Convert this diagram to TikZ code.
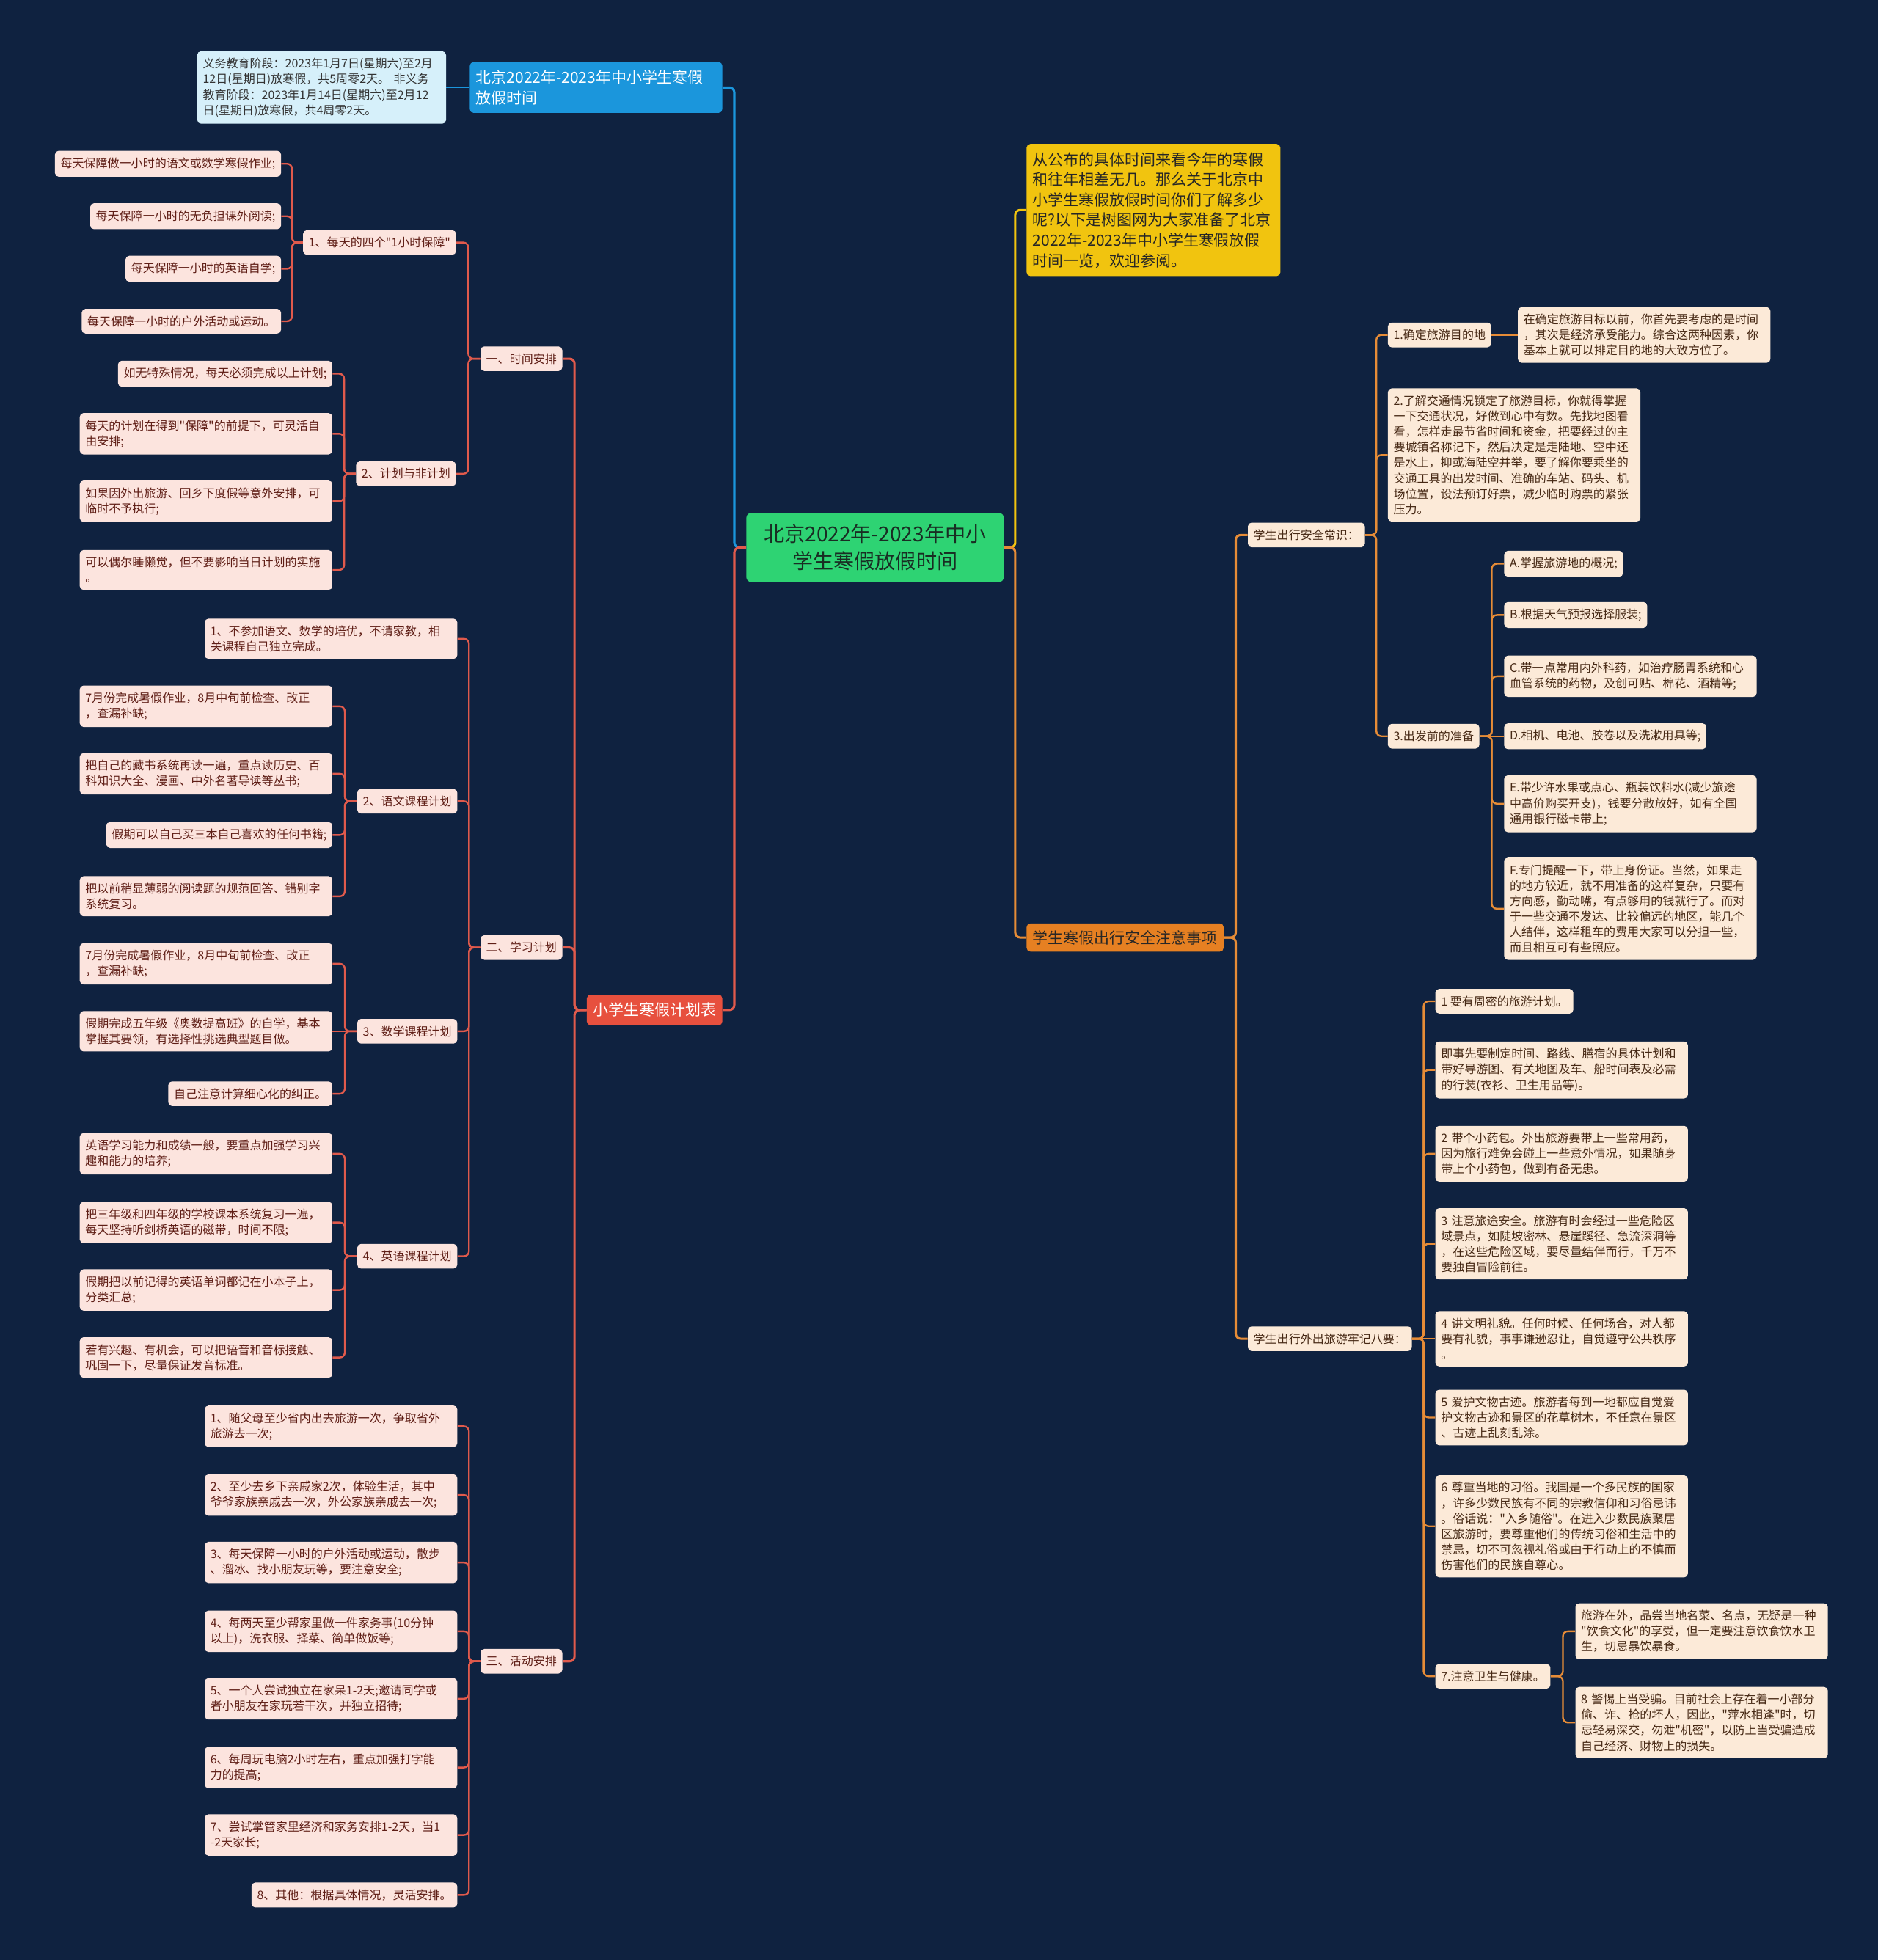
\documentclass[tikz,border=0pt]{standalone}
\usepackage{fontspec}
\usetikzlibrary{calc}
\newfontfamily\cjk{Noto Sans CJK SC}
\definecolor{bgnavy}{RGB}{15,34,64}
\definecolor{rootgreen}{RGB}{46,211,115}
\definecolor{rootink}{RGB}{25,45,35}
\definecolor{topicblue}{RGB}{27,150,220}
\definecolor{leafblue}{RGB}{214,240,250}
\definecolor{topicred}{RGB}{231,80,62}
\definecolor{leafpink}{RGB}{252,228,222}
\definecolor{inkred}{RGB}{95,30,22}
\definecolor{linered}{RGB}{224,90,76}
\definecolor{topicyellow}{RGB}{241,196,15}
\definecolor{topicorange}{RGB}{230,128,34}
\definecolor{leafpeach}{RGB}{252,234,216}
\definecolor{inkbrown}{RGB}{70,40,20}
\definecolor{lineorange}{RGB}{230,140,55}
\tikzstyle{mapbox}=[rounded corners=3pt,inner xsep=4.5pt,inner ysep=5.5pt,align=left,font=\cjk\fontsize{9.4}{12.4}\selectfont]
\tikzstyle{para}=[text width=193pt]
\tikzstyle{leafr}=[mapbox,fill=leafpink,text=inkred]
\tikzstyle{leafo}=[mapbox,fill=leafpeach,text=inkbrown]
\tikzstyle{topic}=[rounded corners=3pt,inner xsep=5pt,inner ysep=6.5pt,align=left,font=\cjk\fontsize{12.3}{16.2}\selectfont]
\tikzstyle{elbow}=[to path={-| ($(\tikztostart)!.5!(\tikztotarget)$) |- (\tikztotarget)}]
\tikzstyle{redlink}=[draw=linered,line width=1.4pt,rounded corners=4pt]
\tikzstyle{orangelink}=[draw=lineorange,line width=1.4pt,rounded corners=4pt]

\begin{document}
\begin{tikzpicture}[x=1pt,y=-1pt]
    \useasboundingbox (0,0) rectangle (1502,1568);
    \fill[bgnavy] (0,0) rectangle (1502,1568);

    % centre
    \node[rounded corners=4pt,fill=rootgreen,text=rootink,align=center,text width=188pt,inner xsep=9pt,inner ysep=9pt,font=\cjk\fontsize{16.5}{22}\selectfont] (root) at (700,438) {北京2022年-2023年中小\\学生寒假放假时间};

    % left: holiday dates
    \node[topic,fill=topicblue,text=white,text width=192pt,anchor=east] (t1) at (578,70) {北京2022年-2023年中小学生寒假\\放假时间};
    \node[mapbox,fill=leafblue,text=black!80,text width=190pt,anchor=east] (t1a) at (357,70) {义务教育阶段：2023年1月7日(星期六)至2月\\12日(星期日)放寒假，共5周零2天。 非义务\\教育阶段：2023年1月14日(星期六)至2月12\\日(星期日)放寒假，共4周零2天。};

    % left: plan
    \node[topic,fill=topicred,text=white,anchor=east] (t2) at (578,808) {小学生寒假计划表};
    \node[leafr,anchor=east] (s1) at (450,287) {一、时间安排};
    \node[leafr,anchor=east] (s2) at (450,758) {二、学习计划};
    \node[leafr,anchor=east] (s3) at (450,1329) {三、活动安排};

    \node[leafr,anchor=east] (s1a) at (365,194) {1、每天的四个"1小时保障"};
    \node[leafr,anchor=east] (s1a1) at (225,131) {每天保障做一小时的语文或数学寒假作业;};
    \node[leafr,anchor=east] (s1a2) at (225,173) {每天保障一小时的无负担课外阅读;};
    \node[leafr,anchor=east] (s1a3) at (225,215) {每天保障一小时的英语自学;};
    \node[leafr,anchor=east] (s1a4) at (225,257) {每天保障一小时的户外活动或运动。};
    \node[leafr,anchor=east] (s1b) at (365,379) {2、计划与非计划};
    \node[leafr,anchor=east] (s1b1) at (266,299) {如无特殊情况，每天必须完成以上计划;};
    \node[leafr,para,anchor=east] (s1b2) at (266,347) {每天的计划在得到"保障"的前提下，可灵活自\\由安排;};
    \node[leafr,para,anchor=east] (s1b3) at (266,401) {如果因外出旅游、回乡下度假等意外安排，可\\临时不予执行;};
    \node[leafr,para,anchor=east] (s1b4) at (266,456) {可以偶尔睡懒觉，但不要影响当日计划的实施\\。};

    \node[leafr,para,anchor=east] (s2a) at (366,511) {1、不参加语文、数学的培优，不请家教，相\\关课程自己独立完成。};
    \node[leafr,anchor=east] (s2b) at (366,641) {2、语文课程计划};
    \node[leafr,para,anchor=east] (s2b1) at (266,565) {7月份完成暑假作业，8月中旬前检查、改正\\，查漏补缺;};
    \node[leafr,para,anchor=east] (s2b2) at (266,619) {把自己的藏书系统再读一遍，重点读历史、百\\科知识大全、漫画、中外名著导读等丛书;};
    \node[leafr,anchor=east] (s2b3) at (266,668) {假期可以自己买三本自己喜欢的任何书籍;};
    \node[leafr,para,anchor=east] (s2b4) at (266,717) {把以前稍显薄弱的阅读题的规范回答、错别字\\系统复习。};
    \node[leafr,anchor=east] (s2c) at (366,825) {3、数学课程计划};
    \node[leafr,para,anchor=east] (s2c1) at (266,771) {7月份完成暑假作业，8月中旬前检查、改正\\，查漏补缺;};
    \node[leafr,para,anchor=east] (s2c2) at (266,825) {假期完成五年级《奥数提高班》的自学，基本\\掌握其要领，有选择性挑选典型题目做。};
    \node[leafr,anchor=east] (s2c3) at (266,875) {自己注意计算细心化的纠正。};
    \node[leafr,anchor=east] (s2d) at (366,1005) {4、英语课程计划};
    \node[leafr,para,anchor=east] (s2d1) at (266,923) {英语学习能力和成绩一般，要重点加强学习兴\\趣和能力的培养;};
    \node[leafr,para,anchor=east] (s2d2) at (266,978) {把三年级和四年级的学校课本系统复习一遍，\\每天坚持听剑桥英语的磁带，时间不限;};
    \node[leafr,para,anchor=east] (s2d3) at (266,1032) {假期把以前记得的英语单词都记在小本子上，\\分类汇总;};
    \node[leafr,para,anchor=east] (s2d4) at (266,1086) {若有兴趣、有机会，可以把语音和音标接触、\\巩固一下，尽量保证发音标准。};

    \node[leafr,para,anchor=east] (s3a) at (366,1141) {1、随父母至少省内出去旅游一次，争取省外\\旅游去一次;};
    \node[leafr,para,anchor=east] (s3b) at (366,1196) {2、至少去乡下亲戚家2次，体验生活，其中\\爷爷家族亲戚去一次，外公家族亲戚去一次;};
    \node[leafr,para,anchor=east] (s3c) at (366,1250) {3、每天保障一小时的户外活动或运动，散步\\、溜冰、找小朋友玩等，要注意安全;};
    \node[leafr,para,anchor=east] (s3d) at (366,1305) {4、每两天至少帮家里做一件家务事(10分钟\\以上)，洗衣服、择菜、简单做饭等;};
    \node[leafr,para,anchor=east] (s3e) at (366,1359) {5、一个人尝试独立在家呆1-2天;邀请同学或\\者小朋友在家玩若干次，并独立招待;};
    \node[leafr,para,anchor=east] (s3f) at (366,1414) {6、每周玩电脑2小时左右，重点加强打字能\\力的提高;};
    \node[leafr,para,anchor=east] (s3g) at (366,1468) {7、尝试掌管家里经济和家务安排1-2天，当1\\-2天家长;};
    \node[leafr,anchor=east] (s3h) at (366,1516) {8、其他：根据具体情况，灵活安排。};

    % right: intro and safety
    \node[topic,fill=topicyellow,text=black!85,text width=193pt,anchor=west] (t3) at (821,168) {从公布的具体时间来看今年的寒假\\和往年相差无几。那么关于北京中\\小学生寒假放假时间你们了解多少\\呢?以下是树图网为大家准备了北京\\2022年-2023年中小学生寒假放假\\时间一览，欢迎参阅。};
    \node[topic,fill=topicorange,text=black!85,inner ysep=5.5pt,anchor=west] (t4) at (821,750) {学生寒假出行安全注意事项};
    \node[leafo,anchor=west] (o1) at (998,428) {学生出行安全常识：};
    \node[leafo,anchor=west] (o2) at (998,1071) {学生出行外出旅游牢记八要：};

    \node[leafo,anchor=west] (o1a) at (1110,268) {1.确定旅游目的地};
    \node[leafo,para,anchor=west] (o1a1) at (1214,268) {在确定旅游目标以前，你首先要考虑的是时间\\，其次是经济承受能力。综合这两种因素，你\\基本上就可以排定目的地的大致方位了。};
    \node[leafo,para,anchor=west] (o1b) at (1110,364) {2.了解交通情况锁定了旅游目标，你就得掌握\\一下交通状况，好做到心中有数。先找地图看\\看，怎样走最节省时间和资金，把要经过的主\\要城镇名称记下，然后决定是走陆地、空中还\\是水上，抑或海陆空并举，要了解你要乘坐的\\交通工具的出发时间、准确的车站、码头、机\\场位置，设法预订好票，减少临时购票的紧张\\压力。};
    \node[leafo,anchor=west] (o1c) at (1110,589) {3.出发前的准备};
    \node[leafo,anchor=west] (o1c1) at (1203,451) {A.掌握旅游地的概况;};
    \node[leafo,anchor=west] (o1c2) at (1203,492) {B.根据天气预报选择服装;};
    \node[leafo,para,anchor=west] (o1c3) at (1203,541) {C.带一点常用内外科药，如治疗肠胃系统和心\\血管系统的药物，及创可贴、棉花、酒精等;};
    \node[leafo,anchor=west] (o1c4) at (1203,589) {D.相机、电池、胶卷以及洗漱用具等;};
    \node[leafo,para,anchor=west] (o1c5) at (1203,643) {E.带少许水果或点心、瓶装饮料水(减少旅途\\中高价购买开支)，钱要分散放好，如有全国\\通用银行磁卡带上;};
    \node[leafo,para,anchor=west] (o1c6) at (1203,727) {F.专门提醒一下，带上身份证。当然，如果走\\的地方较近，就不用准备的这样复杂，只要有\\方向感，勤动嘴，有点够用的钱就行了。而对\\于一些交通不发达、比较偏远的地区，能几个\\人结伴，这样租车的费用大家可以分担一些，\\而且相互可有些照应。};

    \node[leafo,anchor=west] (o2a) at (1148,801) {1 要有周密的旅游计划。};
    \node[leafo,para,anchor=west] (o2b) at (1148,856) {即事先要制定时间、路线、膳宿的具体计划和\\带好导游图、有关地图及车、船时间表及必需\\的行装(衣衫、卫生用品等)。};
    \node[leafo,para,anchor=west] (o2c) at (1148,923) {2 带个小药包。外出旅游要带上一些常用药，\\因为旅行难免会碰上一些意外情况，如果随身\\带上个小药包，做到有备无患。};
    \node[leafo,para,anchor=west] (o2d) at (1148,995) {3 注意旅途安全。旅游有时会经过一些危险区\\域景点，如陡坡密林、悬崖蹊径、急流深洞等\\，在这些危险区域，要尽量结伴而行，千万不\\要独自冒险前往。};
    \node[leafo,para,anchor=west] (o2e) at (1148,1071) {4 讲文明礼貌。任何时候、任何场合，对人都\\要有礼貌，事事谦逊忍让，自觉遵守公共秩序\\。};
    \node[leafo,para,anchor=west] (o2f) at (1148,1134) {5 爱护文物古迹。旅游者每到一地都应自觉爱\\护文物古迹和景区的花草树木，不任意在景区\\、古迹上乱刻乱涂。};
    \node[leafo,para,anchor=west] (o2g) at (1148,1221) {6 尊重当地的习俗。我国是一个多民族的国家\\，许多少数民族有不同的宗教信仰和习俗忌讳\\。俗话说："入乡随俗"。在进入少数民族聚居\\区旅游时，要尊重他们的传统习俗和生活中的\\禁忌，切不可忽视礼俗或由于行动上的不慎而\\伤害他们的民族自尊心。};
    \node[leafo,anchor=west] (o2h) at (1148,1341) {7.注意卫生与健康。};
    \node[leafo,para,anchor=west] (o2h1) at (1260,1305) {旅游在外，品尝当地名菜、名点，无疑是一种\\"饮食文化"的享受，但一定要注意饮食饮水卫\\生，切忌暴饮暴食。};
    \node[leafo,para,anchor=west] (o2h2) at (1260,1378) {8 警惕上当受骗。目前社会上存在着一小部分\\偷、诈、抢的坏人，因此，"萍水相逢"时，切\\忌轻易深交，勿泄"机密"，以防上当受骗造成\\自己经济、财物上的损失。};

    % connectors
    \draw[draw=topicblue,line width=1.8pt,rounded corners=4pt] (root.west) to[elbow] (t1.east);
    \draw[draw=topicblue,line width=1.4pt] (t1.west) -- (t1a.east);
    \draw[redlink,line width=1.8pt] (root.west) to[elbow] (t2.east);
    \foreach \from/\to in {t2/s1,t2/s2,t2/s3}
        \draw[redlink,line width=1.8pt] (\from.west) to[elbow] (\to.east);
    \foreach \from/\to in {s1/s1a,s1/s1b,s1a/s1a1,s1a/s1a2,s1a/s1a3,s1a/s1a4,s1b/s1b1,s1b/s1b2,s1b/s1b3,s1b/s1b4,s2/s2a,s2/s2b,s2/s2c,s2/s2d,s2b/s2b1,s2b/s2b2,s2b/s2b3,s2b/s2b4,s2c/s2c1,s2c/s2c3,s2d/s2d1,s2d/s2d2,s2d/s2d3,s2d/s2d4,s3/s3a,s3/s3b,s3/s3c,s3/s3d,s3/s3e,s3/s3f,s3/s3g,s3/s3h}
        \draw[redlink] (\from.west) to[elbow] (\to.east);
    \draw[redlink] (s2c.west) -- (s2c2.east);

    \draw[draw=topicyellow,line width=1.8pt,rounded corners=4pt] (root.east) to[elbow] (t3.west);
    \draw[orangelink,line width=1.8pt] (root.east) to[elbow] (t4.west);
    \foreach \from/\to in {t4/o1,t4/o2}
        \draw[orangelink,line width=1.8pt] (\from.east) to[elbow] (\to.west);
    \foreach \from/\to in {o1/o1a,o1/o1b,o1/o1c,o1c/o1c1,o1c/o1c2,o1c/o1c3,o1c/o1c5,o1c/o1c6,o2/o2a,o2/o2b,o2/o2c,o2/o2d,o2/o2f,o2/o2g,o2/o2h,o2h/o2h1,o2h/o2h2}
        \draw[orangelink] (\from.east) to[elbow] (\to.west);
    \foreach \from/\to in {o1a/o1a1,o1c/o1c4,o2/o2e}
        \draw[orangelink] (\from.east) -- (\to.west);
\end{tikzpicture}
\end{document}
